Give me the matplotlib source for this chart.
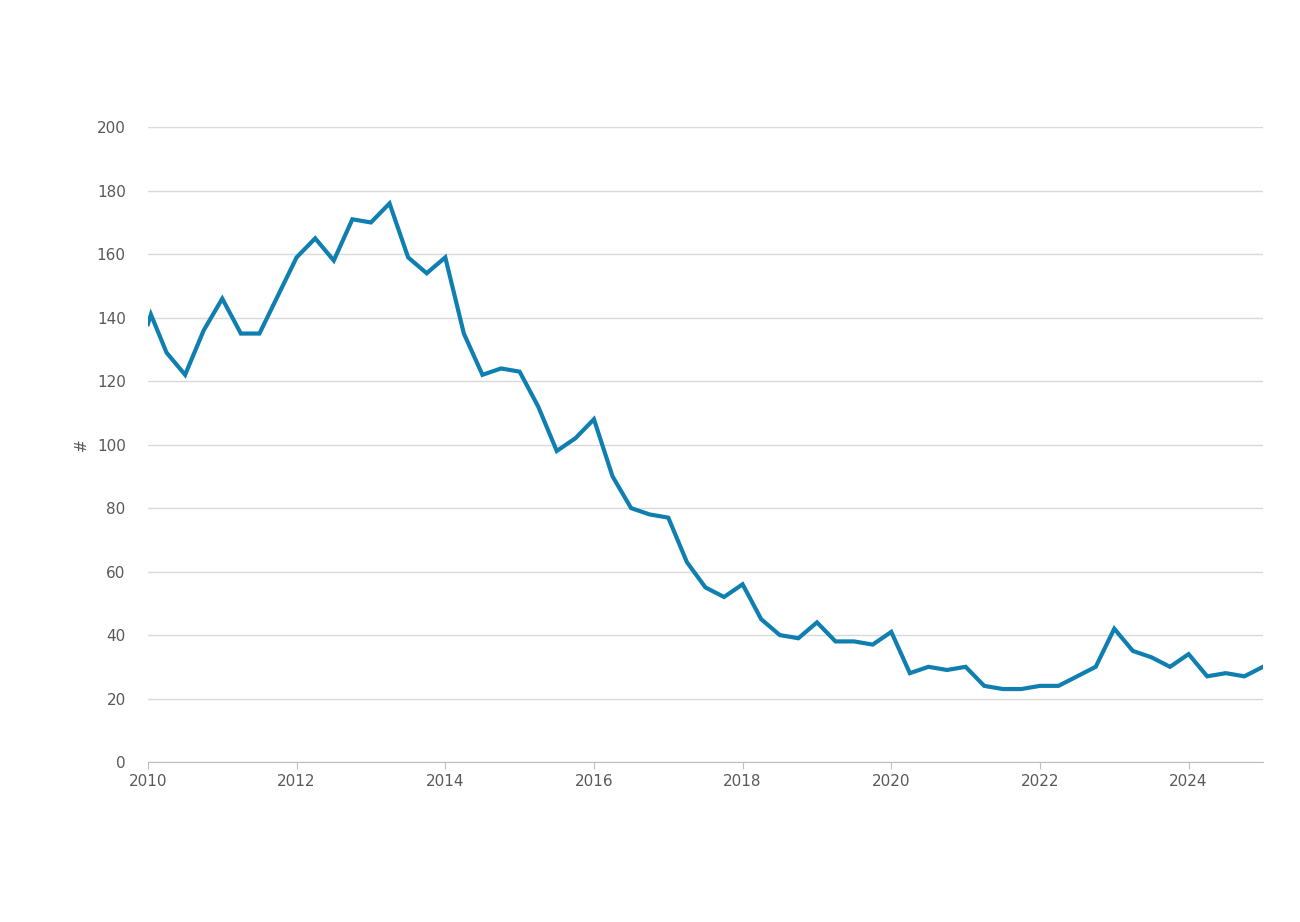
import matplotlib
matplotlib.use("Agg")
import matplotlib.pyplot as plt

# quarterly series, decimal years
years = [2010.0, 2010.04] + [2010.25 + 0.25 * i for i in range(60)]
values = [138, 141,
          129, 122, 136, 146, 135, 135, 147, 159, 165, 158, 171, 170,
          176, 159, 154, 159, 135, 122, 124, 123, 112, 98, 102, 108,
          90, 80, 78, 77, 63, 55, 52, 56, 45, 40, 39, 44, 38, 38,
          37, 41, 28, 30, 29, 30, 24, 23, 23, 24, 24, 27, 30, 42,
          35, 33, 30, 34, 27, 28, 27, 30]
xticks = list(range(2010, 2025, 2))
yticks = list(range(0, 201, 20))

fig = plt.figure(figsize=(13, 9.22), dpi=100)
ax = fig.add_axes([0.1138, 0.1735, 0.8577, 0.6885])
ax.plot(years, values, color="#0e7fb0", linewidth=3, solid_joinstyle="miter")

ax.set_xlim(2010, 2025)
ax.set_ylim(0, 200)
ax.set_xticks(xticks)
ax.set_yticks(yticks)
ax.grid(axis="y", color="#d9d9d9", linewidth=1)
ax.set_axisbelow(True)
for s in ["top", "right", "left"]:
    ax.spines[s].set_visible(False)
ax.spines["bottom"].set_color("#bfbfbf")
ax.tick_params(axis="y", length=0, colors="#595959", labelsize=11, pad=16)
ax.tick_params(axis="x", length=5, color="#bfbfbf", colors="#595959", labelsize=11)
ax.set_ylabel("#", color="#595959", fontsize=11, labelpad=6)

fig.savefig("out.png", dpi=100)
